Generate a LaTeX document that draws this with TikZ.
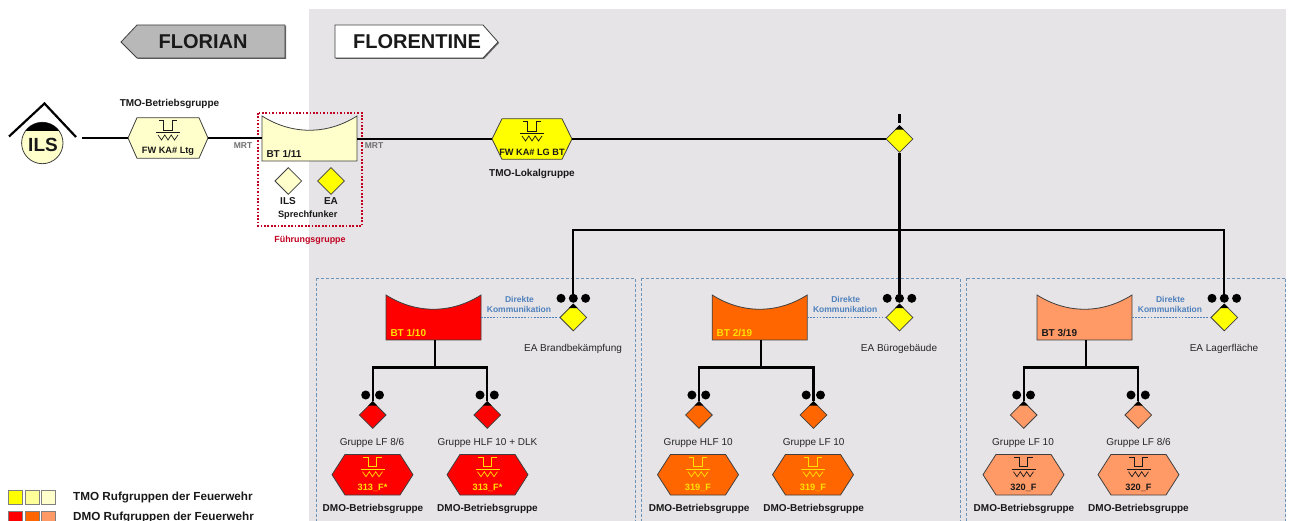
\documentclass[tikz,border=0pt]{standalone}
\usepackage{fontspec}
\setmainfont{Liberation Sans}
\usetikzlibrary{shapes.geometric}
\definecolor{panelgray}{HTML}{E6E4E6}
\definecolor{tmoA}{HTML}{FFFF00}
\definecolor{tmoB}{HTML}{FFFF99}
\definecolor{tmoC}{HTML}{FFFFCC}
\definecolor{dmoA}{HTML}{FF0000}
\definecolor{dmoB}{HTML}{FF6600}
\definecolor{dmoC}{HTML}{FF9966}
\definecolor{signlabel}{HTML}{FFE000}
\definecolor{linkblue}{HTML}{4F81BD}
\definecolor{dashblue}{HTML}{6C94B8}
\definecolor{redbox}{HTML}{C00020}
\definecolor{mrtgray}{HTML}{707070}
\definecolor{edgegray}{HTML}{404040}
\tikzset{
  x=1pt,y=-1pt,
  outline/.style={draw=edgegray,line width=0.8pt},
  lead/.style={draw=black,line width=2.1pt},
  dia/.style={shape=diamond,outline,minimum width=27pt,minimum height=27pt,inner sep=0pt},
  ghost/.style={inner sep=0pt,outer sep=0pt},
  boldlab/.style={font=\bfseries\fontsize{10}{12}\selectfont,text=black!90,inner sep=0pt},
  plainlab/.style={font=\fontsize{10}{12}\selectfont,text=black!85,inner sep=0pt},
  smalllab/.style={font=\bfseries\fontsize{8.5}{10}\selectfont,inner sep=0pt},
  panelbox/.style={draw=dashblue,line width=0.7pt,dash pattern=on 3pt off 2pt},
  knob/.style={circle,fill=black,minimum size=9pt,inner sep=0pt},
  legendsq/.style={draw=gray,line width=0.8pt,minimum width=14pt,minimum height=14pt,inner sep=0pt},
  legendtxt/.style={font=\bfseries\fontsize{11.7}{13}\selectfont,text=black!90,anchor=west,inner sep=0pt},
}
% name, cx, cy, half width, inset, fill, ink, label
\newcommand{\hexsign}[8]{%
  \fill[#6] (#2-#4,#3) -- (#2-#4+#5,#3-20.3) -- (#2+#4-#5,#3-20.3) -- (#2+#4,#3) -- (#2+#4-#5,#3+20.3) -- (#2-#4+#5,#3+20.3) -- cycle;
  \draw[outline] (#2-#4,#3) -- (#2-#4+#5,#3-20.3) -- (#2+#4-#5,#3-20.3) -- (#2+#4,#3) -- (#2+#4-#5,#3+20.3) -- (#2-#4+#5,#3+20.3) -- cycle;
  \draw[#7,line width=0.9pt] (#2-9.3,#3-17.5) -- (#2-4.3,#3-17.5) -- (#2-4.3,#3-8) -- (#2+4.3,#3-8) -- (#2+4.3,#3-17.5) -- (#2+9.3,#3-17.5);
  \draw[#7,line width=0.9pt] (#2-12,#3-5.5) -- (#2+12,#3-5.5);
  \draw[#7,line width=0.7pt] (#2-10,#3-3) -- (#2-6.5,#3+2) -- (#2-3.2,#3-3) -- (#2,#3+2) -- (#2+3.2,#3-3) -- (#2+6.5,#3+2) -- (#2+10,#3-3);
  \node[ghost,minimum width=2*#4 pt,minimum height=40.6pt] (#1) at (#2,#3) {};
  \node[ghost,text=#7,font=\bfseries\fontsize{9.2}{11}\selectfont] (#1-label) at (#2,#3+13.5) {#8};
}
% name, left, top, fill, ink, label
\newcommand{\btbox}[6]{%
  \draw[outline,fill=#4] (#2,#3) .. controls (#2+30,#3+19) and (#2+65,#3+19) .. (#2+95,#3) -- (#2+95,#3+45) -- (#2,#3+45) -- cycle;
  \node[ghost,minimum width=95pt,minimum height=45pt] (#1) at (#2+47.5,#3+22.5) {};
  \node[ghost,anchor=west,text=#5,font=\bfseries\fontsize{10}{12}\selectfont] (#1-label) at (#2+4.5,#3+37.5) {#6};
}
% name, cx, cy, fill : diamond with black cap
\newcommand{\capdia}[4]{%
  \node[dia,fill=#4] (#1) at (#2,#3) {};
  \fill[black] (#1.north) -- ++(-4.5,4.5) -- ++(9,0) -- cycle;
}
% suffix, dx, fill, ink, BT label, EA label, EA label x, g1, g2
\newcommand{\division}[9]{%
  \btbox{bt#1}{386+#2}{295}{#3}{#4}{#5}
  \capdia{ea#1}{573.3+#2}{317.5}{tmoA}
  \node[knob] (ka#1) at (561+#2,298.3) {};
  \node[knob] (kb#1) at (573.3+#2,298.3) {};
  \node[knob] (kc#1) at (585.6+#2,298.3) {};
  \draw[linkblue,line width=1.8pt,dash pattern=on 1.8pt off 1.3pt] (bt#1.east |- ea#1.west) -- (ea#1.west);
  \node[smalllab,text=linkblue] (dir#1) at (519.5+#2,299) {Direkte};
  \node[smalllab,text=linkblue] (kom#1) at (519+#2,309) {Kommunikation};
  \node[plainlab] (ealab#1) at (#7+#2,349) {#6};
  \coordinate (split#1) at (435+#2,367.5);
  \capdia{da#1}{372.7+#2}{415}{#3}
  \capdia{db#1}{487.3+#2}{415}{#3}
  \node[knob] (k1#1) at (365.7+#2,395) {};
  \node[knob] (k2#1) at (379.5+#2,395) {};
  \node[knob] (k3#1) at (480+#2,395) {};
  \node[knob] (k4#1) at (494.3+#2,395) {};
  \draw[lead] (bt#1.south -| split#1) -- (split#1);
  \draw[lead] (da#1.north) |- (split#1) -| (db#1.north);
  \node[plainlab] (ga#1) at (372+#2,443) {#8};
  \node[plainlab] (gb#1) at (487.5+#2,443) {#9};
  \node[boldlab] (dma#1) at (373+#2,509) {DMO-Betriebsgruppe};
  \node[boldlab] (dmb#1) at (487.5+#2,509) {DMO-Betriebsgruppe};
}
\begin{document}
\begin{tikzpicture}
\useasboundingbox (0,0) rectangle (1291,521);
\fill[white] (0,0) rectangle (1291,521);
\fill[panelgray] (309,9) rectangle (1286,521);

% title arrows
\fill[black!60] (122,43) -- (138,26) -- (286,26) -- (286,59) -- (138,59) -- cycle;
\draw[outline,fill=black!28] (121,42) -- (137,25) -- (285,25) -- (285,58) -- (137,58) -- cycle;
\node[ghost,font=\bfseries\fontsize{20}{24}\selectfont,text=black!90] (florian) at (203,42) {FLORIAN};
\fill[black!60] (336,26) -- (484,26) -- (499,43) -- (484,59) -- (336,59) -- cycle;
\draw[outline,fill=white] (335,25) -- (483,25) -- (498,42) -- (483,58) -- (335,58) -- cycle;
\node[ghost,font=\bfseries\fontsize{20}{24}\selectfont,text=black!90] (florentine) at (417,42) {FLORENTINE};

% ILS
\draw[black,line width=2.2pt] (9,136.5) -- (44.5,103.5) -- (76,137);
\node[circle,draw=edgegray,line width=0.8pt,fill=tmoC,minimum size=41.4pt,inner sep=0pt] (ils) at (42.3,143) {};
\begin{scope}
\clip (42.3,143) circle (20.7);
\fill[black] (20,120) rectangle (65,131.5);
\end{scope}
\node[ghost,font=\bfseries\fontsize{19}{23}\selectfont,text=black!90] (ilstext) at (43,145) {ILS};
\coordinate (linestart) at (82,138);

% dotted group
\draw[redbox,line width=1.7pt,dash pattern=on 1.7pt off 1.7pt] (258,113) rectangle (362,226);
\node[ghost,font=\bfseries\fontsize{8.9}{11}\selectfont,text=redbox] (fuehrung) at (310,240) {Führungsgruppe};

% upper row
\hexsign{ltg}{168}{138}{40}{9}{tmoC}{black!90}{FW KA\# Ltg}
\node[boldlab] (tmob) at (169.5,104) {TMO-Betriebsgruppe};
\btbox{bt11}{262}{116}{tmoC}{black!90}{BT 1/11}
\node[dia,fill=tmoC] (dils) at (288.3,181) {};
\node[dia,fill=tmoA] (dea) at (331,181) {};
\node[boldlab] (lils) at (288,201) {ILS};
\node[boldlab] (lea) at (331,201) {EA};
\node[boldlab,font=\bfseries\fontsize{9.2}{11}\selectfont] (lsf) at (307.7,215) {Sprechfunker};
\node[smalllab,text=mrtgray] (mrta) at (243,146) {MRT};
\node[smalllab,text=mrtgray] (mrtb) at (374,146) {MRT};
\hexsign{lg}{532}{139}{40}{10}{tmoA}{black!90}{FW KA\# LG BT}
\node[boldlab] (tmol) at (532,174) {TMO-Lokalgruppe};
\capdia{ctop}{899.5}{139}{tmoA}
\coordinate (ticka) at (899.5,114);
\coordinate (tickb) at (899.5,123);
\draw[black,line width=3.4pt] (ticka) -- (tickb);

\draw[lead] (linestart) -- (linestart -| ltg.west);
\draw[lead] (ltg.east) -- (ltg.east -| bt11.west);
\draw[lead] (bt11.east |- lg.west) -- (lg.west);
\draw[lead] (lg.east) -- (ctop.west);

% divisions
\draw[panelbox] (316,278.5) -- (316,521) (316,278.5) -- (635,278.5) -- (635,521);
\draw[panelbox] (641,278.5) -- (641,521) (641,278.5) -- (960,278.5) -- (960,521);
\draw[panelbox] (966.5,278) -- (966.5,521) (966.5,278) -- (1285.7,278) -- (1285.7,521);

\division{a}{0}{dmoA}{signlabel}{BT 1/10}{EA Brandbekämpfung}{573}{Gruppe LF 8/6}{Gruppe HLF 10 + DLK}
\hexsign{ha1}{372.5}{474.7}{40.5}{13}{dmoA}{signlabel}{313\_F*}
\hexsign{ha2}{487.5}{474.7}{40.5}{13}{dmoA}{signlabel}{313\_F*}

\division{b}{326.2}{dmoB}{signlabel}{BT 2/19}{EA Bürogebäude}{572.8}{Gruppe HLF 10}{Gruppe LF 10}
\hexsign{hb1}{698}{474.7}{40.5}{13}{dmoB}{signlabel}{319\_F}
\hexsign{hb2}{813}{474.7}{40.5}{13}{dmoB}{signlabel}{319\_F}

\division{c}{651}{dmoC}{black!90}{BT 3/19}{EA Lagerfläche}{573}{Gruppe LF 10}{Gruppe LF 8/6}
\hexsign{hc1}{1023.5}{474.7}{40.5}{13}{dmoC}{black!90}{320\_F}
\hexsign{hc2}{1138.5}{474.7}{40.5}{13}{dmoC}{black!90}{320\_F}

% feeders
\coordinate (busmid) at (899.5,230);
\draw[lead] (ctop.south) -- (kbb.north);
\draw[lead] (kba.north) |- (busmid) -| (kbc.north);

% legend
\node[legendsq,fill=tmoA] (l1) at (15,497.5) {};
\node[legendsq,fill=tmoB] (l2) at (32,497.5) {};
\node[legendsq,fill=tmoC] (l3) at (48.5,497.5) {};
\node[legendsq,fill=dmoA] (l4) at (15,518) {};
\node[legendsq,fill=dmoB] (l5) at (32,518) {};
\node[legendsq,fill=dmoC] (l6) at (48.5,518) {};
\node[legendtxt] (lt1) at (73,497.5) {TMO Rufgruppen der Feuerwehr};
\node[legendtxt] (lt2) at (73,517.5) {DMO Rufgruppen der Feuerwehr};
\end{tikzpicture}
\end{document}
